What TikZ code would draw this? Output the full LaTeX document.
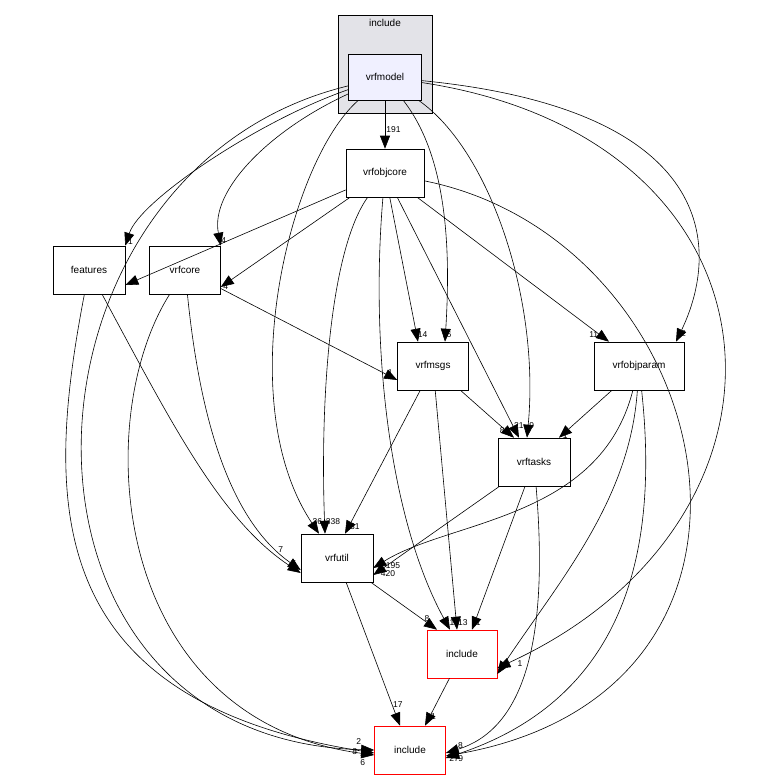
\documentclass[tikz,border=0pt]{standalone}
\usepackage{fontspec}
\setmainfont{Liberation Sans}
\usetikzlibrary{arrows.meta,positioning}

\begin{document}
\begin{tikzpicture}[x=1pt,y=-1pt,>={Triangle[length=13pt,width=10pt]},semithick,
  dirbox/.style={draw,fill=white,minimum width=72pt,minimum height=48pt,inner sep=2pt,font=\fontsize{10}{11}\selectfont},
  extbox/.style={dirbox,draw=red},
  lbl/.style={font=\fontsize{8.5}{9}\selectfont,inner sep=1pt}]

\useasboundingbox (0,0) rectangle (774,780);

% cluster
\node[draw,fill=blue!10!gray!20,minimum width=94pt,minimum height=98pt,inner sep=0pt] (cluster) at (385,64) {};
\node[lbl,font=\fontsize{10}{11}\selectfont,below=3pt of cluster.north] (clustertitle) {include};

\node[dirbox,fill=blue!6,minimum width=73pt,minimum height=46pt] (vrfmodel) at (385,77) {vrfmodel};
\node[dirbox,minimum width=78pt] (vrfobjcore)  at (385,173) {vrfobjcore};
\node[dirbox] (features)    at (89,270)  {features};
\node[dirbox,minimum width=71pt] (vrfcore)     at (185,270) {vrfcore};
\node[dirbox,minimum width=71pt] (vrfmsgs)     at (433,366) {vrfmsgs};
\node[dirbox,minimum width=90pt] (vrfobjparam) at (639,366) {vrfobjparam};
\node[dirbox] (vrftasks)    at (534,462) {vrftasks};
\node[dirbox] (vrfutil)     at (337,558) {vrfutil};
\node[extbox,minimum width=70pt] (inc1) at (462,654) {include};
\node[extbox,minimum width=71pt] (inc2) at (410,750) {include};

% vrfmodel
\draw[->] (vrfmodel) .. controls (260,120) and (140,200) .. (features.north east) node[lbl,right,pos=0.97] {1};
\draw[->] (vrfmodel) .. controls (270,130) and (210,190) .. (vrfcore.north east) node[lbl,right,pos=0.97] {4};
\draw[->] (vrfmodel) -- (vrfobjcore) node[lbl,right,pos=0.6] {191};
\draw[->] (vrfmodel) .. controls (290,160) and (230,400) .. ([xshift=-18pt]vrfutil.north) node[lbl,right,pos=0.97] {36};
\draw[->] (vrfmodel) .. controls (0,170) and (-20,740) .. (inc2.west) node[lbl,anchor=south east,pos=0.99,yshift=4pt] {2};
\draw[->] (vrfmodel) .. controls (450,160) and (450,260) .. ([xshift=12pt]vrfmsgs.north) node[lbl,right,pos=0.97] {6};
\draw[->] (vrfmodel) .. controls (490,150) and (540,300) .. ([xshift=-7pt]vrftasks.north) node[lbl,right,pos=0.97] {9};
\draw[->] (vrfmodel) .. controls (720,110) and (720,250) .. ([xshift=37pt]vrfobjparam.north) node[lbl,right,pos=0.97] {2};
\draw[->] (vrfmodel) .. controls (800,140) and (820,520) .. ([yshift=-14pt]inc1.east) node[lbl,below right,pos=0.98] {1};

% vrfobjcore
\draw[->] (vrfobjcore) -- ([yshift=-15pt]features.east) node[lbl,right,pos=0.97] {4};
\draw[->] (vrfobjcore) -- ([yshift=-17pt]vrfcore.east) node[lbl,right,pos=0.99] {4};
\draw[->] (vrfobjcore) .. controls (330,250) and (320,400) .. ([xshift=-12pt]vrfutil.north) node[lbl,right,pos=0.97] {338};
\draw[->] (vrfobjcore) .. controls (370,350) and (390,520) .. ([xshift=-12pt]inc1.north) node[lbl,above right,pos=0.99] {17};
\draw[->] (vrfobjcore) -- ([xshift=-15pt]vrfmsgs.north) node[lbl,right,pos=0.95] {14};
\draw[->] (vrfobjcore) -- ([xshift=-15pt]vrftasks.north) node[lbl,right,pos=0.95] {21};
\draw[->] (vrfobjcore) -- ([xshift=-30pt]vrfobjparam.north) node[lbl,left,pos=0.95] {11};
\draw[->] (vrfobjcore) .. controls (720,240) and (820,690) .. ([yshift=-6pt]inc2.east) node[lbl,above right,pos=0.99,yshift=4pt] {8};

% features, vrfcore
\draw[->] (features) .. controls (170,420) and (220,520) .. ([yshift=-15pt]vrfutil.west) node[lbl,above,pos=0.97] {7};
\draw[->] (features) .. controls (45,500) and (40,700) .. ([yshift=-3pt]inc2.west) node[lbl,anchor=east,pos=0.99,xshift=-6pt] {8};
\draw[->] (vrfcore) -- ([yshift=-14pt]vrfmsgs.west) node[lbl,above,pos=0.96] {1};
\draw[->] (vrfcore) .. controls (200,420) and (230,520) .. ([yshift=-12pt]vrfutil.west) node[lbl,above,pos=0.9] {7};
\draw[->] (vrfcore) .. controls (90,420) and (110,720) .. ([yshift=-5pt]inc2.west) node[lbl,anchor=north east,pos=0.99,yshift=-4pt] {6};

% vrfmsgs, vrfobjparam, vrftasks
\draw[->] (vrfmsgs) -- ([xshift=-20pt]vrftasks.north) node[lbl,left,pos=0.85] {8};
\draw[->] (vrfmsgs) -- ([xshift=8pt]vrfutil.north) node[lbl,right,pos=0.95] {31};
\draw[->] (vrfmsgs) -- ([xshift=-5pt]inc1.north) node[lbl,above right,pos=0.99] {13};
\draw[->] (vrfobjparam) -- ([xshift=25pt]vrftasks.north) node[lbl,right,pos=0.95] {1};
\draw[->] (vrfobjparam) .. controls (600,520) and (450,520) .. ([yshift=-10pt]vrfutil.east) node[lbl,anchor=north west,pos=0.99,yshift=-3pt,xshift=4pt] {420};
\draw[->] (vrftasks) -- ([yshift=-17pt]vrfutil.east) node[lbl,anchor=south west,pos=0.99,xshift=10pt,yshift=4pt] {195};
\draw[->] (vrfobjparam) .. controls (630,500) and (560,580) .. ([yshift=-20pt]inc1.east) node[lbl,right,pos=0.97] {4};
\draw[->] (vrfobjparam) .. controls (660,560) and (620,700) .. ([yshift=-8pt]inc2.east) node[lbl,right,pos=0.99,xshift=6pt,yshift=-2pt] {9};
\draw[->] (vrftasks) -- ([xshift=10pt]inc1.north) node[lbl,right,pos=0.95] {1};
\draw[->] (vrftasks) .. controls (550,650) and (520,730) .. ([yshift=-3pt]inc2.east) node[lbl,below right,pos=0.99,yshift=-2pt] {27};

% vrfutil, include
\draw[->] (vrfutil) -- ([xshift=-25pt]inc1.north) node[lbl,above,pos=0.85] {8};
\draw[->] (vrfutil) -- ([xshift=-10pt]inc2.north) node[lbl,right,pos=0.85] {17};
\draw[->] (inc1) -- ([xshift=15pt]inc2.north) node[lbl,right,pos=0.8] {1};

\end{tikzpicture}
\end{document}
